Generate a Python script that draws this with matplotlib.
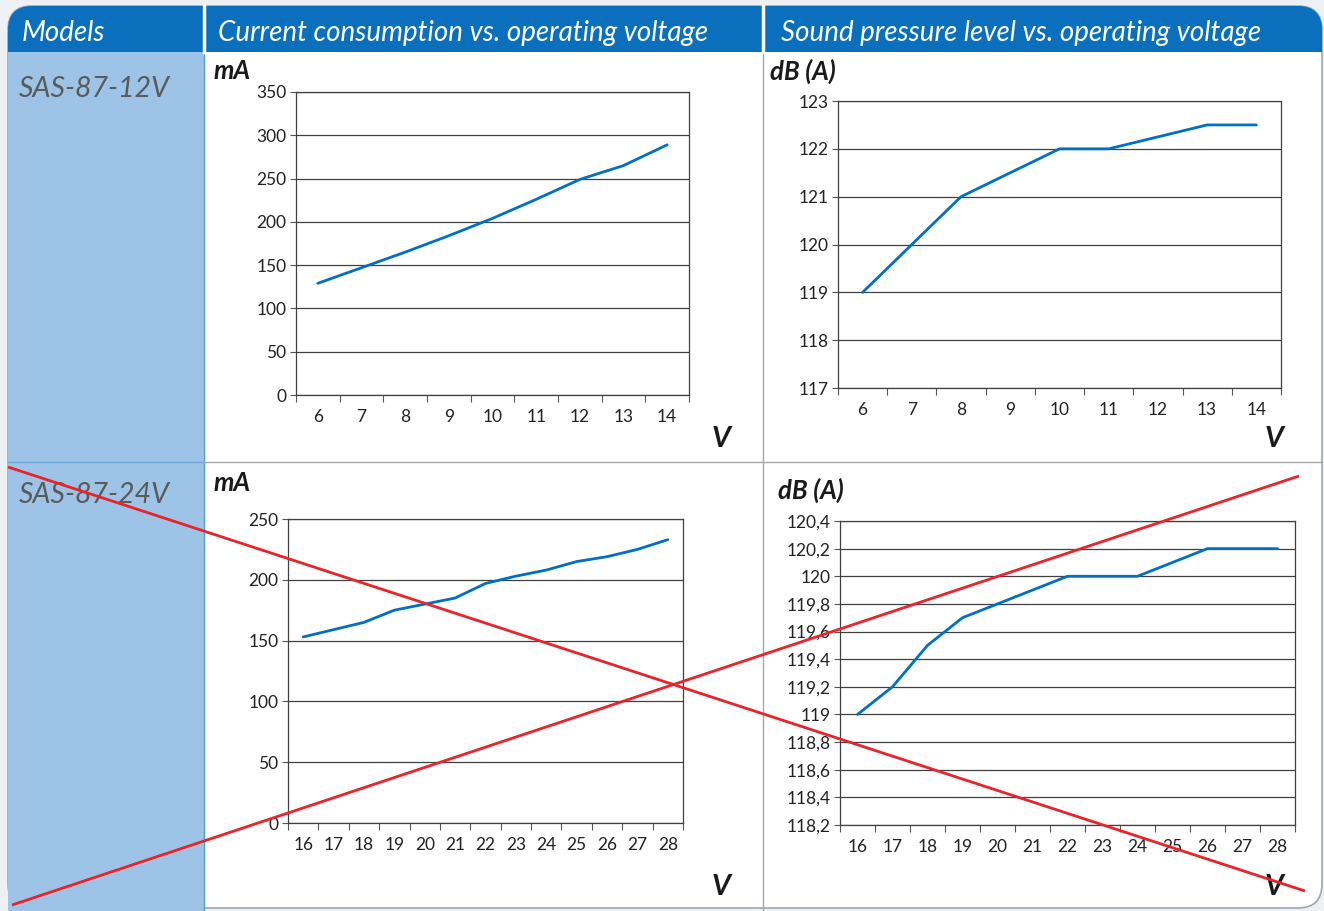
import matplotlib
matplotlib.use("Agg")
import matplotlib.pyplot as plt
from matplotlib.patches import Rectangle, FancyBboxPatch
from matplotlib.ticker import FixedLocator, FuncFormatter

# data
volts_12 = ["6", "7", "8", "9", "10", "11", "12", "13", "14"]
current_12 = [129, 147, 165, 184, 204, 226, 249, 265, 289]
spl_12 = [119.0, 120.0, 121.0, 121.5, 122.0, 122.0, 122.25, 122.5, 122.5]

volts_24 = ["16", "17", "18", "19", "20", "21", "22", "23", "24", "25", "26", "27", "28"]
current_24 = [153, 159, 165, 175, 180, 185, 197, 203, 208, 215, 219, 225, 233]
spl_24 = [119.0, 119.2, 119.5, 119.7, 119.8, 119.9, 120.0, 120.0, 120.0, 120.1, 120.2, 120.2, 120.2]

headers = ["Models", "Current consumption vs. operating voltage",
           "Sound pressure level vs. operating voltage"]
models = ["SAS-87-12V", "SAS-87-24V"]

# red "crossed out" strokes over the 24V row (figure pixels)
cross_lines = [((8, 467), (1305, 891)), ((12, 905), (1299, 476))]

W, H = 1324, 911
BLUE = "#0070c0"
HEAD = "#0a6fbd"
SIDE = "#9dc3e6"
FONT = "Lato"

plt.rcParams["font.family"] = [FONT, "DejaVu Sans"]

fig = plt.figure(figsize=(W / 100, H / 100), dpi=100)
fig.patch.set_facecolor("#eef1f4")

bg = fig.add_axes([0, 0, 1, 1])
bg.set_xlim(0, W)
bg.set_ylim(H, 0)
bg.axis("off")

# table body and header
bg.add_patch(FancyBboxPatch((8, 6), 1314, 902, boxstyle="round,pad=0,rounding_size=24",
                            fc="white", ec="#9aa8b6", lw=1.2))
bg.add_patch(FancyBboxPatch((8, 6), 1314, 46, boxstyle="round,pad=0,rounding_size=24",
                            fc=HEAD, ec="none"))
bg.add_patch(Rectangle((8, 30), 1314, 22, fc=HEAD, ec="none"))
bg.add_patch(Rectangle((8, 52), 196, 860, fc=SIDE, ec="none"))
bg.plot([204, 204], [52, 911], color="#5b9bd5", lw=1)
bg.plot([8, 204], [462, 462], color="#6fa6d8", lw=1)
bg.plot([204, 1322], [462, 462], color="#a6a6a6", lw=1)
bg.plot([763, 763], [52, 911], color="#a6a6a6", lw=1)
for xs in (203.5, 762.5):
    bg.plot([xs, xs], [6, 52], color="white", lw=2.5)

hx = [22, 218, 781]
for x, t in zip(hx, headers):
    bg.text(x, 33, t, color="white", fontsize=20, style="italic", va="center", ha="left")
for y, m in zip([89, 495], models):
    bg.text(19, y, m, color="#5a5a5a", fontsize=20.5, style="italic", va="center", ha="left")


def panel(box, cats, vals, ylo, yhi, step, ylab, ylab_xy, v_xy, comma=False):
    x0, y0, x1, y1 = box
    ax = fig.add_axes([x0 / W, 1 - y1 / H, (x1 - x0) / W, (y1 - y0) / H])
    n = len(cats)
    xs = list(range(n))
    ax.plot(xs, vals, color=BLUE, lw=2, solid_joinstyle="round", solid_capstyle="round")
    ax.set_xlim(-0.5, n - 0.5)
    ax.set_ylim(ylo, yhi)
    ax.set_xticks(xs)
    ax.set_xticklabels(cats)
    ax.xaxis.set_minor_locator(FixedLocator([i - 0.5 for i in range(n + 1)]))
    ax.tick_params(axis="x", which="major", length=0, pad=10, labelsize=12.5, colors="#222")
    ax.tick_params(axis="x", which="minor", length=5, width=0.8, color="#555", direction="out")
    k = round((yhi - ylo) / step)
    ax.set_yticks([ylo + i * step for i in range(k + 1)])
    if comma:
        ax.yaxis.set_major_formatter(FuncFormatter(lambda v, p: ("%g" % round(v, 2)).replace(".", ",")))
    ax.tick_params(axis="y", length=4, width=0.8, color="#555", direction="out", pad=3,
                   labelsize=12.5, labelcolor="#222")
    ax.grid(axis="y", color="#404040", lw=0.9)
    ax.set_axisbelow(True)
    for s in ax.spines.values():
        s.set_color("#404040")
        s.set_linewidth(0.9)
    bg.text(ylab_xy[0], ylab_xy[1], ylab, fontsize=18.5, fontweight="bold", style="italic",
            color="#1a1a1a", va="center", ha="left")
    bg.text(v_xy[0], v_xy[1], "V", fontsize=21, fontweight="bold", style="italic",
            color="#1a1a1a", va="center", ha="center")
    return ax


panel((296, 92, 689, 395), volts_12, current_12, 0, 350, 50, "mA", (213, 71), (721, 439))
panel((838, 101, 1281, 388), volts_12, spl_12, 117, 123, 1, "dB (A)", (770, 71), (1274, 439))
panel((288, 519, 683, 823), volts_24, current_24, 0, 250, 50, "mA", (213, 483), (721, 887))
panel((840, 521, 1295, 825), volts_24, spl_24, 118.2, 120.4, 0.2, "dB (A)", (778, 490), (1274, 887),
      comma=True)

ov = fig.add_axes([0, 0, 1, 1], zorder=10)
ov.set_xlim(0, W)
ov.set_ylim(H, 0)
ov.axis("off")
ov.patch.set_alpha(0)
for (a, b) in cross_lines:
    ov.plot([a[0], b[0]], [a[1], b[1]], color="#e8242a", lw=2, solid_capstyle="butt")

fig.savefig("out.png", dpi=100)
